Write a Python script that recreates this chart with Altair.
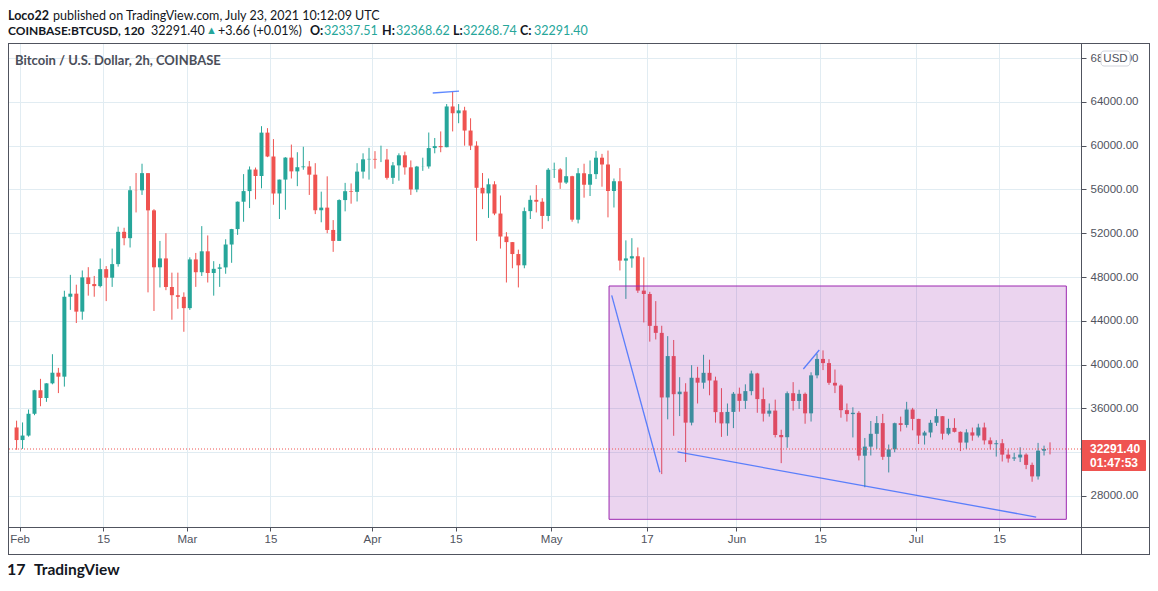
import altair as alt
import pandas as pd

# ---------------- data (daily candles) ----------------
first_open = 34260
closes = [33110,
    33520, 35510, 37660, 36950, 38290, 39260, 38900, 46200, 46480, 44840, 47970, 47360, 47170, 48720,
    47940, 49180, 52130, 51550, 55930, 55920, 57490, 54090, 48890, 49700, 47090, 46340, 46190, 45160,
    49610, 48440, 50350, 48370, 48750, 48880, 50970, 52380, 54880, 55850, 57820, 57230, 61190, 59010,
    55630, 56900, 58910, 57650, 58030, 58100, 57350, 54100, 54340, 52300, 51300, 55030, 55840, 55780,
    57630, 58750, 58790,
    58730, 58730, 57060, 58200, 59120, 58020, 56000, 58090, 58100, 59780, 59960, 59860, 63580, 62960,
    63220, 61380, 60000, 56150, 55640, 56470, 53800, 51700, 51190, 50100, 49070, 54020, 55050, 54880,
    53580, 57800,
    57830, 56630, 57210, 53240, 57480, 56430, 57400, 58900, 58280, 55860, 56750, 49500, 49700, 49900,
    46760, 46450, 43540, 42900, 37000, 40780, 37300, 37530, 34700, 38800, 38350, 39250, 38550, 35660,
    34630, 35680, 37340,
    36690, 37580, 39190, 36850, 35520, 35800, 33570, 33370, 37390, 36680, 37330, 35550, 39020, 40520,
    40140, 38340, 38090, 35840, 35480, 35600, 31680, 32510, 33680, 34660, 31580, 32260, 34650, 34490,
    35900, 35040,
    33520, 33800, 34690, 35290, 33690, 34220, 33860, 32880, 33810, 33520, 34260, 33080, 32730, 32820,
    31780, 31420, 31520, 31780, 30840, 29790, 32140, 32300, 32291.40]
highs = [34880,
    34720, 35900, 37700, 38700, 38300, 40950, 39700, 46750, 48200, 47300, 48600, 48900, 48100, 49700,
    49000, 50600, 52600, 52500, 56300, 57500, 58350, 57500, 54200, 51300, 52000, 48400, 48400, 46600,
    49800, 50200, 52650, 51800, 49450, 49200, 51450, 52400, 54900, 57400, 58100, 58000, 61780, 61600,
    60600, 56900, 58950, 60100, 59400, 59900, 58600, 58400, 55800, 57200, 53200, 55100, 56600, 56550,
    58400, 59300, 59800,
    59500, 60000, 59700, 58500, 59300, 59450, 58650, 58150, 58900, 61200, 60700, 61300, 63800, 64895,
    63800, 63550, 62500, 60400, 57500, 57000, 56750, 55450, 52100, 51200, 50500, 54350, 55450, 56400,
    55200, 57950,
    58450, 57950, 58950, 57250, 57950, 58350, 58650, 59500, 59250, 59550, 57000, 57950, 51350, 51550,
    50700, 49800, 46650, 45800, 43550, 42600, 42250, 38850, 38300, 39950, 39800, 40900, 40450, 38900,
    37850, 36450, 37500,
    37900, 38200, 39450, 39250, 37900, 36450, 36800, 34050, 37550, 38400, 37700, 37450, 39300, 41000,
    41300, 40500, 39550, 38200, 36450, 36100, 35750, 33300, 34850, 35300, 35500, 32700, 34700, 35250,
    36600, 36050,
    35050, 33950, 34950, 35950, 35300, 35050, 35100, 33900, 34100, 34250, 34600, 34700, 33350, 33100,
    33200, 32250, 31950, 32450, 31900, 31050, 32850, 32600, 32900]
lows = [32220,
    32300, 33420, 35380, 36200, 36600, 38200, 37400, 37990, 45000, 43800, 44100, 46300, 46200, 47050,
    45800, 47100, 48950, 50900, 50700, 53900, 55500, 46600, 44900, 47050, 46800, 44100, 45100, 43000,
    45000, 47100, 48100, 47500, 46300, 47100, 48300, 49300, 51850, 53050, 54300, 55100, 56100, 58950,
    54600, 53300, 54150, 57000, 56300, 57800, 55500, 53750, 53000, 52000, 50300, 51300, 54000, 54700,
    54900, 57000, 56900,
    57900, 58500, 56900, 56500, 56800, 57350, 55500, 55750, 57700, 57900, 59300, 59400, 59850, 61300,
    62050, 60000, 59600, 51300, 54200, 53400, 53650, 50600, 47500, 48800, 47050, 48800, 53300, 53900,
    52400, 53100,
    57050, 56050, 56500, 53050, 52900, 55250, 55400, 56950, 56250, 53450, 54350, 48600, 46000, 48850,
    46550, 43850, 42100, 42300, 30000, 35000, 33500, 35300, 31100, 34450, 36450, 37800, 37200, 34700,
    33400, 33500, 34200,
    35700, 35950, 37200, 35600, 34800, 35250, 33350, 31000, 32400, 35800, 35950, 34600, 34800, 38750,
    39500, 38150, 37400, 35150, 34800, 33350, 31250, 28800, 31700, 32300, 31300, 30150, 32000, 33900,
    34250, 34000,
    32750, 32700, 33350, 34400, 33150, 33550, 33800, 32100, 32300, 33050, 33350, 32700, 32250, 31600,
    31150, 31050, 31200, 31100, 30450, 29300, 29500, 31700, 31800]
first_day = "2021-01-31"
last_price = 32291.40

# drawings on the chart (date, price)
rect_start, rect_end = "2021-05-10T16:20:00Z", "2021-07-26T05:30:00Z"
rect_top, rect_bottom = 47180, 25870
trend_t1 = ["2021-05-11T03:00:00Z", "2021-05-22T03:20:00Z", "2021-04-11T04:00:00Z", "2021-06-12T05:00:00Z"]
trend_p1 = [46330, 32020, 64810, 39600]
trend_t2 = ["2021-05-19T04:30:00Z", "2021-07-21T04:20:00Z", "2021-04-15T13:40:00Z", "2021-06-14T21:00:00Z"]
trend_p2 = [30165, 26080, 64990, 41335]

# axis ticks
y_ticks = [28000, 32000, 36000, 40000, 44000, 48000, 52000, 56000, 60000, 64000, 68000]
hidden_y_label = 32000   # covered by the last-price marker in the reference
x_ticks = [(2, 1), (2, 15), (3, 1), (3, 15), (4, 1), (4, 15), (5, 1), (5, 17), (6, 1), (6, 15), (7, 1), (7, 15)]

# texts
header_user = "Loco22"
header_rest = "published on TradingView.com, July 23, 2021 10:12:09 UTC"
sym = "COINBASE:BTCUSD, 120"
last_txt = "32291.40"
chg_txt = "+3.66 (+0.01%)"
ohlc_labels = ["O:", "H:", "L:", "C:"]
ohlc_values = ["32337.51", "32368.62", "32268.74", "32291.40"]
legend_title = "Bitcoin / U.S. Dollar, 2h, COINBASE"
countdown = "01:47:53"
currency = "USD"
logo_txt = "TradingView"

# ---------------- build tables ----------------
dates = pd.date_range(first_day, periods=len(closes), freq="D")
opens = [first_open] + closes[:-1]
df = pd.DataFrame({
    "t": [d.strftime("%Y-%m-%dT12:00:00Z") for d in dates],
    "open": opens, "high": highs, "low": lows, "close": closes,
})
df["dir"] = ["up" if c >= o else "down" for o, c in zip(opens, closes)]

rect_df = pd.DataFrame({"t": [rect_start], "t2": [rect_end], "p": [rect_top], "p2": [rect_bottom]})
trend_df = pd.DataFrame({"t": trend_t1, "p": trend_p1, "t2": trend_t2, "p2": trend_p2})
last_df = pd.DataFrame({"p": [last_price]})
dummy = pd.DataFrame({"k": [0]})

W, H = 1073, 484
GREEN, RED = "#26a69a", "#ef5350"
TXT = "#131722"
AX = "#50535e"
GRID = "#e1ecf2"
FONT = "Lato"
AXFONT = "Liberation Sans"

xs = alt.Scale(type="utc", nice=False, domain=[
    alt.DateTime(year=2021, month=1, date=30, hours=21, minutes=36, utc=True),
    alt.DateTime(year=2021, month=7, date=27, hours=20, minutes=24, utc=True)])
ys = alt.Scale(domain=[25168, 69377], zero=False, nice=False)

x_axis = alt.Axis(
    values=[alt.DateTime(year=2021, month=m, date=d, utc=True) for m, d in x_ticks],
    labelExpr="utcdate(datum.value) == 1 ? utcFormat(datum.value, '%b') : utcFormat(datum.value, '%d')",
    title=None, grid=True, gridColor=GRID, gridWidth=1, tickColor=AX, tickSize=4, domain=False,
    labelColor=AX, labelFont=AXFONT, labelFontSize=11.5, labelPadding=2, labelAngle=0,
    labelFlush=False, labelOverlap=False)
y_axis = alt.Axis(
    orient="right", values=y_ticks,
    labelExpr=f"datum.value == {hidden_y_label} ? '' : format(datum.value, '.2f')",
    title=None, grid=True, gridColor=GRID, gridWidth=1,
    tickColor=AX, tickSize=5, domain=False, labelColor=AX, labelFont=AXFONT, labelFontSize=11.5,
    labelPadding=4, labelOverlap=False)


def X(field):
    return alt.X(field, scale=xs, axis=x_axis)


def Y(field):
    return alt.Y(field, scale=ys, axis=y_axis)


color = alt.Color("dir:N", scale=alt.Scale(domain=["up", "down"], range=[GREEN, RED]), legend=None)

wicks = alt.Chart(df).mark_rule(strokeWidth=1).encode(
    x=X("t:T"), y=Y("low:Q"), y2="high:Q", color=color)
bodies = alt.Chart(df).mark_bar(size=4).encode(
    x=X("t:T"), y=Y("open:Q"), y2="close:Q", color=color)

rect = alt.Chart(rect_df).mark_rect(fill="#9c27b0", fillOpacity=0.2, stroke="#9c27b0", strokeWidth=1).encode(
    x=X("t:T"), x2="t2:T", y=Y("p:Q"), y2="p2:Q")

trends = alt.Chart(trend_df).mark_rule(color="#2962ff", strokeWidth=1.3, opacity=0.75).encode(
    x=X("t:T"), x2="t2:T", y=Y("p:Q"), y2="p2:Q")

price_line = alt.Chart(last_df).mark_rule(color=RED, strokeWidth=1, strokeDash=[1, 2]).encode(
    y=Y("p:Q"))

price_box = alt.Chart(last_df).mark_rect(color=RED, yOffset=-9, y2Offset=22, cornerRadius=1).encode(
    x=alt.value(W), x2=alt.value(W + 65), y=Y("p:Q"), y2="p:Q")
price_txt = alt.Chart(last_df).mark_text(text=last_txt, align="left", baseline="middle", font=AXFONT,
                                         fontSize=12, fontWeight="bold", color="white").encode(
    x=alt.value(W + 9), y=Y("p:Q"))
count_txt = alt.Chart(last_df).mark_text(text=countdown, align="left", baseline="middle", font=AXFONT,
                                         fontSize=12, fontWeight="bold", color="white", dy=14).encode(
    x=alt.value(W + 9), y=Y("p:Q"))


def txt(s, x, y, size=12.5, weight="normal", col=TXT, font=FONT, align="left"):
    return alt.Chart(dummy).mark_text(text=s, align=align, baseline="middle", font=font, fontSize=size,
                                      fontWeight=weight, color=col).encode(x=alt.value(x), y=alt.value(y))


def hline(y, x1, x2, col=AX):
    return alt.Chart(dummy).mark_rule(color=col, strokeWidth=1).encode(
        x=alt.value(x1), x2=alt.value(x2), y=alt.value(y))


def vline(x, y1, y2, col=AX):
    return alt.Chart(dummy).mark_rule(color=col, strokeWidth=1).encode(
        x=alt.value(x), y=alt.value(y1), y2=alt.value(y2))


usd_box = alt.Chart(dummy).mark_rect(fill="white", stroke="#d1d4dc", strokeWidth=1, cornerRadius=3).encode(
    x=alt.value(W + 20), x2=alt.value(W + 49), y=alt.value(8), y2=alt.value(23))
usd_txt = txt(currency, W + 34.5, 15.5, size=11.5, col=AX, font=AXFONT, align="center")

ly1, ly2 = -27.5, -12.5
header = [
    txt(header_user, 0, ly1, weight="bold"),
    txt(header_rest, 45, ly1),
    txt(sym, 0, ly2, size=12, weight="bold"),
    txt(last_txt, 143, ly2),
    txt("\u25b2", 198, ly2, size=11, col=GREEN),
    txt(chg_txt, 210, ly2),
]
ox = [302, 374, 445, 512]
vx = [316, 388, 455, 526]
for lab, val, a, b in zip(ohlc_labels, ohlc_values, ox, vx):
    header.append(txt(lab, a, ly2, weight="bold"))
    header.append(txt(val, b, ly2, col=GREEN))
header.append(txt(legend_title, 7, 17.5, size=13, weight="bold", col="#4a4e59"))

frame = [
    hline(0.5, 0, 1142), hline(H + 0.5, 0, 1142), hline(511.5, 0, 1142),
    vline(0.5, 0, 511.5), vline(W + 0.5, 0, 511.5), vline(1141.5, 0, 511.5),
]

logo = [
    txt("17", -1, 527, size=16, weight="bold", col=TXT, font=FONT),
    txt(logo_txt, 26, 527, size=15.5, weight="bold", col=TXT, font=FONT),
]

chart = alt.layer(
    wicks, bodies, rect, trends, price_line, price_box, price_txt, count_txt,
    usd_box, usd_txt, *header, *frame, *logo
).properties(
    width=W, height=H,
    autosize=alt.AutoSizeParams(type="none"),
    padding={"left": 0, "top": 35, "right": 69, "bottom": 51},
    background="white",
).configure_view(strokeWidth=0)

chart.save("out.html", embed_options={"renderer": "svg", "actions": False})
